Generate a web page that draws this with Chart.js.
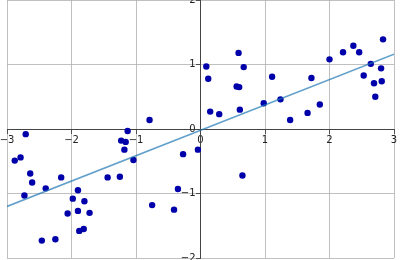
<!DOCTYPE html>
<html>
<head>
<meta charset="utf-8">
<script src="https://cdn.jsdelivr.net/npm/chart.js@4.4.1/dist/chart.umd.min.js"></script>
<style>
  html, body { margin: 0; padding: 0; background: #fff; }
  #wrap { width: 400px; height: 260px; }
</style>
</head>
<body>
<div id="wrap"><canvas id="scatterChart"></canvas></div>
<script>
// sample points
let xs = [0.09, 0.12, 0.59, 0.67, 0.56, 0.60, 0.15, 0.29, 0.61, 1.11,
          0.98, 1.24, 1.39, 1.66, 1.72, 1.85, 2.00, 2.21, 2.37, 2.46,
          2.64, 2.53, 2.80, 2.83, 2.69, 2.81, 2.71, -0.79, -1.13, -2.71,
          -2.88, -2.79, -2.64, -2.61, -2.73, -2.40, -2.16, -2.46, -2.25, -2.06,
          -1.98, -1.90, -1.90, -1.80, -1.72, -1.88, -1.81, -1.44, -1.25, -1.23,
          -1.16, -1.18, -1.04, -0.75, -0.41, -0.35, -0.27, -0.04, 0.65]
let ys = [0.97, 0.78, 1.18, 0.96, 0.66, 0.65, 0.27, 0.23, 0.30, 0.81,
          0.40, 0.46, 0.14, 0.25, 0.79, 0.38, 1.08, 1.19, 1.29, 1.19,
          1.01, 0.83, 0.94, 1.39, 0.71, 0.74, 0.50, 0.14, -0.03, -0.08,
          -0.49, -0.44, -0.69, -0.83, -1.03, -0.92, -0.75, -1.73, -1.71, -1.31,
          -1.08, -0.95, -1.27, -1.12, -1.30, -1.58, -1.55, -0.75, -0.74, -0.18,
          -0.20, -0.32, -0.48, -1.18, -1.25, -0.93, -0.39, -0.32, -0.72]

// fitted line ends
let fitX = [-3, 3]
let fitY = [-1.20, 1.16]

let xTicks = [-3, -2, -1, 0, 1, 2, 3]
let yTicks = [-2, -1, 0, 1, 2]

let points = xs.map((x, i) => ({ x: x, y: ys[i] }))
let fitLine = fitX.map((x, i) => ({ x: x, y: fitY[i] }))

function noSpace(scale) {
  // centred axes should not eat into the plot area
  if (scale.isHorizontal()) scale.height = 0
  else scale.width = 0
  scale.paddingLeft = 0
  scale.paddingRight = 0
  scale.paddingTop = 0
  scale.paddingBottom = 0
}

let minus = (v) => String(v).replace('-', '\u2212')

let gridStyle = {
  color: '#b0b0b0',
  lineWidth: 0.8,
  drawTicks: true,
  tickLength: 4,
  tickColor: '#333'
}

let ctx = document.getElementById('scatterChart').getContext('2d')
let myChart = new Chart(ctx, {
  type: 'scatter',
  data: {
    datasets: [
      {
        type: 'line',
        label: 'fit',
        data: fitLine,
        borderColor: 'rgba(31, 119, 180, 0.7)',
        borderWidth: 1.6,
        pointRadius: 0,
        fill: false,
        tension: 0
      },
      {
        label: 'data',
        data: points,
        backgroundColor: '#0000aa',
        borderColor: '#0000aa',
        borderWidth: 0,
        pointRadius: 3.2,
        pointHoverRadius: 3.2
      }
    ]
  },
  options: {
    responsive: true,
    maintainAspectRatio: false,
    animation: false,
    events: [],
    layout: { autoPadding: false, padding: { left: 7, right: 6, top: -1, bottom: 2 } },
    plugins: {
      legend: { display: false },
      tooltip: { enabled: false }
    },
    scales: {
      x: {
        type: 'linear',
        position: { y: 0 },
        min: xTicks[0],
        max: xTicks[xTicks.length - 1],
        afterBuildTicks: (s) => { s.ticks = xTicks.map(v => ({ value: v })) },
        afterFit: noSpace,
        grid: gridStyle,
        border: { color: '#444', width: 1 },
        ticks: {
          maxRotation: 0,
          autoSkip: false,
          padding: 1,
          color: '#222',
          font: { family: 'DejaVu Sans', size: 10 },
          callback: (v) => minus(v)
        }
      },
      y: {
        type: 'linear',
        position: { x: 0 },
        min: yTicks[0],
        max: yTicks[yTicks.length - 1],
        afterBuildTicks: (s) => { s.ticks = yTicks.map(v => ({ value: v })) },
        afterFit: noSpace,
        grid: gridStyle,
        border: { color: '#444', width: 1 },
        ticks: {
          autoSkip: false,
          padding: 4,
          color: '#222',
          font: { family: 'DejaVu Sans', size: 10 },
          // labels sit flush on the spine here, so pad them a little
          callback: (v) => minus(v) + '\u2002'
        }
      }
    }
  }
})
</script>
</body>
</html>
